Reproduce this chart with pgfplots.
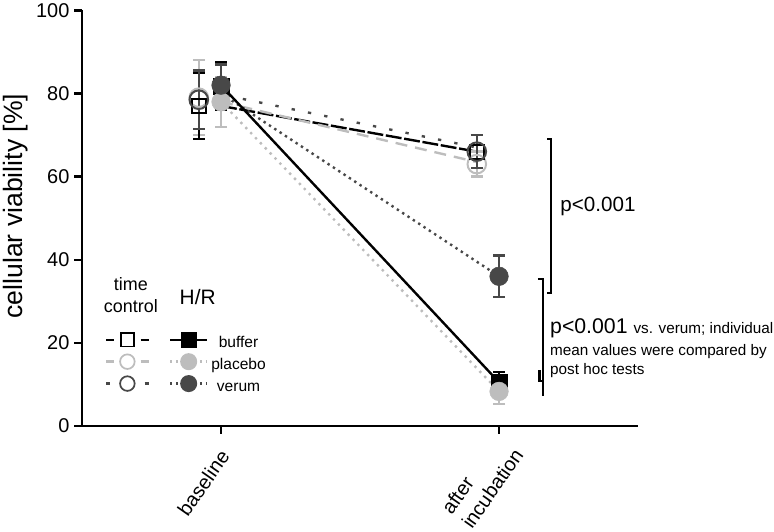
\documentclass[border=0pt]{standalone}
\usepackage{pgfplots}
\pgfplotsset{compat=1.18}
\usepackage{fontspec}
\setmainfont{Liberation Sans}
\definecolor{lgray}{HTML}{BDBDBD}
\definecolor{dgray}{HTML}{484848}
\pgfplotsset{
  eb/.style={error bars/.cd, y dir=both, y explicit,
    error bar style={line width=1.8pt},
    error mark options={rotate=90, mark size=4.5pt, line width=1.8pt, solid}},
  tcimg/.style={legend image code/.code={\draw[mark repeat=2,mark phase=2,##1] plot coordinates {(0pt,3pt) (16pt,3pt) (32pt,3pt)};}},
  hrimg/.style={legend image code/.code={\path[draw=none, fill=none] (-14.25pt,3pt) -- (31pt,3pt); \draw[mark repeat=2,mark phase=2,##1] plot coordinates {(0pt,3pt) (14pt,3pt) (28pt,3pt)};}},
}
\begin{document}
\begin{tikzpicture}
\begin{axis}[
  scale only axis, width=418.5pt, height=312.75pt,
  xmin=-0.5, xmax=1.5, ymin=0, ymax=100,
  axis x line*=bottom, axis y line*=left,
  axis line style={line width=1.8pt},
  xtick={0,1}, xticklabels={{baseline\hspace*{7.5pt}},{after\\incubation}},
  ytick={0,20,40,60,80,100},
  tick align=outside, major tick length=6pt,
  tick style={line width=1.8pt, black},
  /pgf/number format/assume math mode=true,
  yticklabel style={font=\fontsize{15}{18}\selectfont},
  xticklabel style={xshift=9pt, yshift=-5pt, rotate=55, anchor=east, align=left, font=\fontsize{15}{18.5}\selectfont},
  ylabel={cellular viability [\%]},
  every axis y label/.style={at={(axis description cs:-0.12,0.529)}, rotate=90, anchor=center, font=\fontsize{20}{24}\selectfont},
  clip=false,
  legend columns=2,
  legend style={draw=none, fill=none, inner sep=0pt, outer sep=0pt,
    at={(axis description cs:0.0412,0.224)}, anchor=north west,
    font=\fontsize{11.7}{14}\selectfont,
    nodes={inner sep=0pt, text height=9pt, text depth=3pt},
    row sep=2pt, column sep=0pt,
    /tikz/every odd column/.style={column sep=0pt},
    /tikz/every even column/.style={column sep=0pt}},
]
% ---- connecting lines (time control) ----
\addplot[forget plot, black, line width=1.8pt, dash pattern=on 12pt off 2pt] coordinates {(0,77) (0.92,66)};
\addplot[forget plot, lgray, line width=1.8pt, dash pattern=on 9pt off 6pt] coordinates {(0,78) (0.92,63.5)};
\addplot[forget plot, dgray, line width=1.8pt, dash pattern=on 2.5pt off 10pt] coordinates {(0.02,79.5) (0.92,67)};
% ---- connecting lines (H/R) ----
\addplot[forget plot, lgray, line width=1.8pt, dash pattern=on 1.8pt off 3.5pt] coordinates {(0,78) (1,8.3)};
\addplot[forget plot, dgray, line width=1.8pt, dash pattern=on 1.8pt off 3pt] coordinates {(0,80) (1,36)};
\addplot[forget plot, black, line width=1.8pt] coordinates {(0,82) (1,10.5)};
% ---- markers, time control ----
\addplot[forget plot, only marks, lgray, mark=o, mark size=7pt, mark options={line width=1.5pt}, eb]
  coordinates {(-0.08,79) +- (0,9) (0.92,63) +- (0,3)};
\addplot[forget plot, only marks, black, mark=square, mark size=5.2pt, mark options={line width=1.5pt}, eb]
  coordinates {(-0.08,77) +- (0,8) (0.92,66) +- (0,4)};
\addplot[forget plot, only marks, dgray, mark=o, mark size=7pt, mark options={line width=1.5pt}, eb]
  coordinates {(-0.08,78.5) +- (0,7) (0.92,66) +- (0,4)};
% ---- markers, H/R ----
\addplot[forget plot, only marks, black, mark=square*, mark size=6pt, mark options={fill=black}, eb]
  coordinates {(0,81.8) +- (0,5.8) (1,10.5) +- (0,2.5)};
\addplot[forget plot, only marks, lgray, mark=*, mark size=7pt, mark options={fill=lgray}, eb]
  coordinates {(0,78) +- (0,6) (1,8.3) +- (0,3)};
\addplot[forget plot, only marks, dgray, mark=*, mark size=7pt, mark options={fill=dgray}, eb]
  coordinates {(0,82) +- (0,5) (1,36) +- (0,5)};
% ---- legend ----
\addlegendimage{tcimg, black, line width=1.8pt, dash pattern=on 6pt off 20pt on 6pt off 0.01pt, mark=square*, mark options={solid, fill=white, mark size=5pt, line width=1.3pt}}
\addlegendentry{}
\addlegendimage{hrimg, black, line width=1.8pt, mark=square*, mark options={solid, fill=black, mark size=5.2pt}}
\addlegendentry{buffer}
\addlegendimage{tcimg, lgray, line width=1.8pt, dash pattern=on 6pt off 20pt on 6pt off 0.01pt, mark=*, mark options={solid, fill=white, mark size=5.5pt, line width=1.3pt}}
\addlegendentry{}
\addlegendimage{hrimg, lgray, line width=1.8pt, dash pattern=on 1.5pt off 3pt, mark=*, mark options={solid, fill=lgray, mark size=5.5pt}}
\addlegendentry{placebo}
\addlegendimage{tcimg, dgray, line width=1.8pt, dash pattern=on 3pt off 26pt on 3pt off 0.01pt, mark=*, mark options={solid, fill=white, mark size=5.5pt, line width=1.3pt}}
\addlegendentry{}
\addlegendimage{hrimg, dgray, line width=1.8pt, dash pattern=on 1.5pt off 3pt, mark=*, mark options={solid, fill=dgray, mark size=5.5pt}}
\addlegendentry{verum}
% ---- legend headers ----
\node[align=center, font=\fontsize{13.5}{16}\selectfont] at (axis description cs:0.0878,0.315) {time\\control};
\node[font=\fontsize{15.7}{18}\selectfont] at (axis description cs:0.208,0.3106) {H/R};
% ---- significance brackets ----
\draw[line width=1.8pt] (axis cs:1.173,69) -- (axis cs:1.186,69) -- (axis cs:1.186,32) -- (axis cs:1.173,32);
\draw[line width=1.8pt] (axis cs:1.140,35.4) -- (axis cs:1.158,35.4) -- (axis cs:1.158,7.2);
\draw[line width=1.8pt] (axis cs:1.146,13.4) -- (axis cs:1.146,10.8) -- (axis cs:1.158,10.8);
\node[anchor=west, inner sep=0pt, font=\fontsize{15.5}{18}\selectfont] at (axis cs:1.22,52.9) {p<0.001};
\node[anchor=base west, inner sep=0pt] at (axis cs:1.183,22.2) {\fontsize{16}{19}\selectfont p<0.001 \fontsize{11.5}{14}\selectfont vs. verum; individual};
\node[anchor=base west, inner sep=0pt, font=\fontsize{11.5}{14}\selectfont] at (axis cs:1.183,17.0) {mean values were compared by};
\node[anchor=base west, inner sep=0pt, font=\fontsize{11.5}{14}\selectfont] at (axis cs:1.183,12.3) {post hoc tests};
\coordinate (bbll) at (axis cs:-0.795,-25.5);
\coordinate (bbur) at (axis cs:1.989,102.5);
\end{axis}
\pgfresetboundingbox
\path (bbll) rectangle (bbur);
\end{tikzpicture}
\end{document}
